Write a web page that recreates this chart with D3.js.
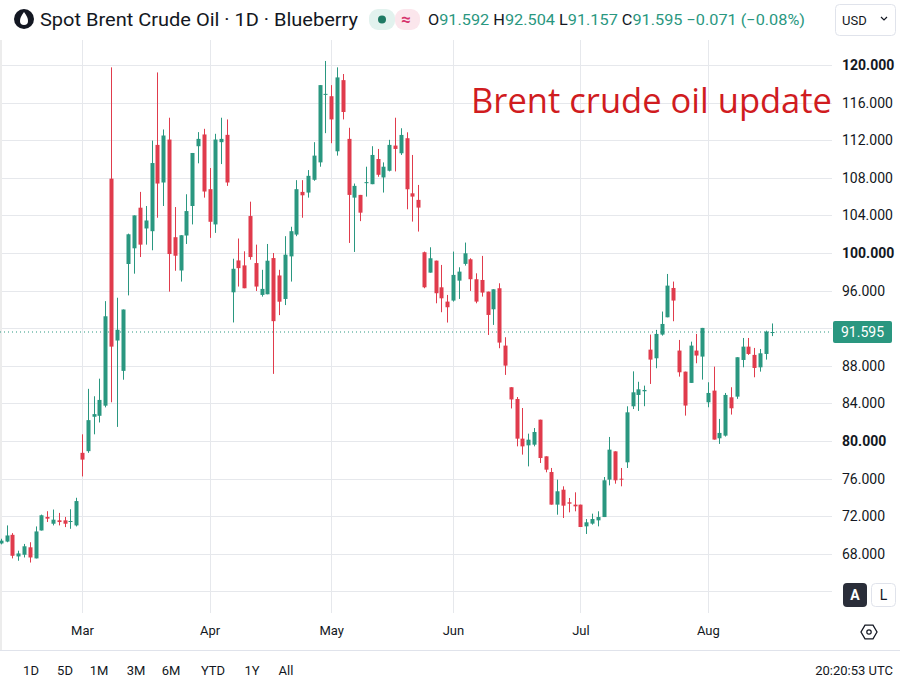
<!DOCTYPE html>
<html>
<head>
<meta charset="utf-8">
<script src="https://cdnjs.cloudflare.com/ajax/libs/d3/7.8.5/d3.min.js"></script>
<style>
	html, body { margin: 0; padding: 0; background: #fff; }
	svg { display: block; font-family: Roboto, 'Noto Sans', sans-serif; }
</style>
</head>
<body>
<div id="chart"></div>
<script>
//daily candles (first one is cut by the left edge)
const opens = [69.1,
	69.30, 70.02, 67.72, 67.90, 68.69, 67.51, 70.48, 71.92, 71.20, 71.56,
	71.56, 71.45, 71.02, 78.74, 78.92, 82.58, 82.68, 83.76, 107.91, 90.69,
	87.46, 98.83, 100.5, 104.82, 102.61, 102.32, 111.5, 107.5, 112.07, 101.68,
	98.14, 101.86, 105.0, 111.36, 112.61, 106.79, 103.04, 111.79, 112.57, 95.82,
	99.21, 98.68, 103.93, 98.93, 95.54, 95.61, 99.46, 97.61, 95.11, 99.64,
	101.96, 106.5, 106.43, 107.79, 109.64, 116.82, 116.68, 110.82, 118.39, 112.14,
	105.89, 106.18, 107.43, 107.32, 110.0, 108.04, 108.75, 111.43, 110.61, 112.21,
	106.35, 105.65, 100.08, 97.91, 99.19, 96.35, 94.83, 94.94, 97.06, 98.84,
	99.33, 97.21, 97.13, 95.89, 94.01, 96.25, 90.15, 85.72, 84.47, 80.25,
	79.54, 79.61, 82.27, 78.37, 76.70, 73.23, 74.82, 73.48, 73.23, 73.23,
	70.92, 71.21, 71.56, 71.91, 75.89, 78.90, 75.99, 77.73, 83.69, 84.90,
	85.29, 89.72, 88.80, 91.32, 93.16, 96.28, 89.62, 87.38, 86.18, 89.62,
	88.98, 84.12, 85.36, 80.29, 80.57, 84.65, 84.72, 88.62, 90.04, 89.16,
	87.84, 89.26, 91.592];
const highs = [69.6,
	71.02, 70.20, 68.33, 69.05, 69.23, 70.91, 72.17, 72.53, 72.71, 72.35,
	71.92, 72.74, 73.96, 80.71, 85.55, 84.76, 86.63, 94.88, 119.75, 95.24,
	93.99, 102.06, 104.0, 106.5, 105.0, 111.96, 119.21, 113.14, 114.39, 104.89,
	101.89, 106.25, 110.64, 112.86, 113.21, 109.04, 112.68, 114.39, 114.21, 99.39,
	101.54, 100.18, 105.46, 100.89, 98.21, 100.96, 100.0, 98.21, 101.79, 102.79,
	107.75, 107.75, 108.82, 111.79, 117.86, 120.43, 117.86, 119.75, 119.04, 113.32,
	107.39, 106.18, 109.18, 111.36, 111.07, 109.64, 112.04, 114.39, 113.27, 112.84,
	110.43, 107.24, 100.15, 100.61, 99.19, 98.73, 95.54, 100.15, 98.48, 101.11,
	99.44, 97.84, 99.69, 95.89, 96.14, 96.78, 91.04, 85.72, 84.68, 83.51,
	80.78, 81.38, 82.27, 78.37, 77.13, 75.89, 75.18, 73.94, 74.54, 73.23,
	71.70, 72.27, 72.52, 76.17, 80.43, 78.90, 77.13, 83.69, 87.41, 86.30,
	85.89, 91.32, 91.82, 93.77, 97.77, 96.96, 90.75, 87.38, 90.57, 91.39,
	92.03, 86.25, 87.91, 82.35, 85.11, 85.72, 88.91, 90.96, 90.96, 89.90,
	89.79, 91.74, 92.504];
const lows = [69.0,
	69.23, 67.51, 67.26, 67.61, 67.07, 67.51, 70.48, 71.38, 71.02, 71.02,
	70.84, 70.66, 70.91, 76.23, 78.74, 80.71, 81.97, 83.58, 84.12, 81.50,
	86.52, 95.49, 97.8, 99.57, 100.89, 100.29, 103.75, 105.0, 95.89, 98.11,
	96.96, 100.96, 103.04, 109.54, 105.89, 101.61, 102.14, 109.46, 107.14, 92.61,
	96.43, 96.25, 99.29, 95.96, 95.36, 95.61, 87.14, 93.39, 94.46, 96.96,
	101.79, 103.75, 105.89, 107.68, 109.18, 112.75, 111.68, 110.36, 114.21, 101.07,
	100.11, 103.39, 106.0, 107.32, 108.11, 106.43, 108.68, 108.68, 110.43, 104.65,
	103.34, 102.28, 96.25, 97.91, 94.65, 93.70, 92.60, 94.83, 95.11, 98.66,
	95.96, 94.65, 95.36, 91.28, 92.35, 89.87, 87.03, 83.46, 79.43, 78.55,
	77.30, 79.43, 77.66, 76.67, 73.23, 72.16, 71.81, 72.41, 72.52, 70.85,
	70.11, 71.10, 70.92, 71.91, 75.28, 75.46, 75.18, 77.13, 83.40, 83.20,
	83.70, 86.07, 87.74, 91.21, 93.16, 92.74, 86.85, 82.70, 86.18, 88.27,
	86.53, 83.59, 80.15, 79.69, 80.47, 82.81, 84.48, 87.84, 89.16, 86.78,
	87.38, 88.66, 91.157];
const closes = [69.4,
	69.95, 67.79, 68.04, 68.80, 67.61, 70.38, 72.10, 71.74, 71.63, 71.38,
	71.20, 71.49, 73.61, 78.02, 82.22, 82.86, 84.37, 93.27, 90.04, 91.83,
	93.99, 101.99, 104.0, 100.89, 103.46, 109.57, 107.39, 112.5, 99.89, 99.71,
	101.89, 104.46, 110.64, 112.14, 106.54, 103.32, 112.07, 112.14, 107.5, 98.32,
	98.39, 96.25, 99.57, 96.43, 96.18, 99.18, 92.75, 94.82, 99.82, 102.32,
	106.79, 106.14, 108.21, 110.36, 117.86, 116.93, 114.21, 118.68, 115.0, 106.18,
	107.14, 104.29, 107.54, 110.43, 108.32, 109.18, 111.5, 111.07, 112.56, 106.78,
	106.0, 104.83, 96.35, 99.44, 95.72, 95.18, 94.23, 97.67, 98.02, 99.97,
	97.21, 94.83, 95.79, 93.41, 96.14, 90.47, 88.02, 84.42, 80.25, 79.43,
	80.14, 80.96, 78.19, 76.95, 73.23, 74.65, 73.12, 73.33, 73.05, 70.85,
	71.35, 71.70, 71.91, 75.82, 79.08, 75.82, 75.89, 83.05, 85.18, 85.50,
	85.43, 88.66, 91.39, 92.45, 96.53, 94.94, 87.31, 83.77, 90.15, 89.09,
	92.03, 85.11, 80.15, 80.86, 84.90, 83.48, 88.91, 90.04, 89.26, 87.77,
	89.33, 91.64, 91.595];

//first candle of each month (index into the arrays above)
const monthLabels = ['Mar', 'Apr', 'May', 'Jun', 'Jul', 'Aug'];
const monthStarts = [14, 36, 57, 78, 100, 122];

//grid lines every 4; 64 and 92 have no label (hidden by buttons / price tag)
const priceTicks = [64, 68, 72, 76, 80, 84, 88, 92, 96, 100, 104, 108, 112, 116, 120];
const priceLabels = [68, 72, 76, 80, 84, 88, 96, 100, 104, 108, 112, 116, 120];
const rangeButtons = ['1D', '5D', '1M', '3M', '6M', 'YTD', '1Y', 'All'];
const lastPrice = 91.595;

const width = 900;
const height = 677;
const plotRight = 832;
const upColor = '#2a9780';
const downColor = '#e03b4c';
const textColor = '#131722';
const gridColor = '#e6e8ec';

const svg = d3
	.select('#chart')
	.append('svg')
	.attr('width', width)
	.attr('height', height);

svg.append('rect').attr('width', width).attr('height', height).attr('fill', '#fff');

//one slot per trading day
const x = d3
	.scaleLinear()
	.domain([ 0, opens.length - 1 ])
	.range([ 0.9, 0.9 + 5.795 * (opens.length - 1) ]);

const y = d3
	.scaleLinear()
	.domain([ 64, 120 ])
	.range([ 591.4, 65 ]);

//grid
svg
	.append('g')
	.selectAll('line')
	.data(priceTicks)
	.enter()
	.append('line')
	.attr('x1', 0)
	.attr('x2', plotRight)
	.attr('y1', (d) => Math.round(y(d)) + 0.5)
	.attr('y2', (d) => Math.round(y(d)) + 0.5)
	.attr('stroke', gridColor);

svg
	.append('g')
	.selectAll('line')
	.data(monthStarts)
	.enter()
	.append('line')
	.attr('x1', (d) => Math.round(x(d)) + 0.5)
	.attr('x2', (d) => Math.round(x(d)) + 0.5)
	.attr('y1', 40)
	.attr('y2', 613)
	.attr('stroke', gridColor);

//thin strip on the left edge
svg.append('rect').attr('x', 0).attr('y', 40).attr('width', 2).attr('height', 610).attr('fill', '#ececec');

//dotted last price line
svg
	.append('line')
	.attr('x1', 0)
	.attr('x2', plotRight)
	.attr('y1', y(lastPrice))
	.attr('y2', y(lastPrice))
	.attr('stroke', upColor)
	.attr('stroke-width', 1)
	.attr('stroke-dasharray', '1,3');

//candles
const candles = svg
	.append('g')
	.selectAll('g')
	.data(opens.map((o, i) => ({ i, o, h: highs[i], l: lows[i], c: closes[i] })))
	.enter()
	.append('g')
	.attr('fill', (d) => (d.c >= d.o ? upColor : downColor))
	.attr('stroke', (d) => (d.c >= d.o ? upColor : downColor));

candles
	.append('line')
	.attr('x1', (d) => Math.round(x(d.i)) + 0.5)
	.attr('x2', (d) => Math.round(x(d.i)) + 0.5)
	.attr('y1', (d) => y(d.h))
	.attr('y2', (d) => y(d.l))
	.attr('stroke-width', 1);

candles
	.append('rect')
	.attr('stroke', 'none')
	.attr('x', (d) => Math.round(x(d.i)) - 1.5)
	.attr('width', 4)
	.attr('y', (d) => y(Math.max(d.o, d.c)))
	.attr('height', (d) => Math.max(1, Math.abs(y(d.o) - y(d.c))));

//price scale on the right
const yAxis = svg
	.append('g')
	.attr('transform', `translate(${plotRight}, 0)`)
	.call(d3.axisRight(y).tickValues(priceLabels).tickFormat(d3.format('.3f')).tickSize(0).tickPadding(10));
yAxis.select('.domain').remove();
yAxis
	.selectAll('text')
	.attr('font-family', 'Roboto')
	.attr('font-size', 14)
	.attr('fill', textColor)
	.attr('font-weight', (d) => (d % 20 === 0 ? 'bold' : 'normal'));

//last price tag
svg
	.append('rect')
	.attr('x', 833)
	.attr('y', y(lastPrice) - 11)
	.attr('width', 59)
	.attr('height', 22)
	.attr('rx', 2)
	.attr('fill', upColor);
svg
	.append('text')
	.attr('x', 841)
	.attr('y', y(lastPrice) + 5)
	.attr('font-size', 14)
	.attr('fill', '#fff')
	.text(d3.format('.3f')(lastPrice));

//time scale
const xAxis = svg
	.append('g')
	.attr('transform', 'translate(0, 623)')
	.call(d3.axisBottom(x).tickValues(monthStarts).tickFormat((d, i) => monthLabels[i]).tickSize(0).tickPadding(3));
xAxis.select('.domain').remove();
xAxis.selectAll('text').attr('font-family', 'Roboto').attr('font-size', 13).attr('fill', textColor);

//A / L buttons and settings icon
svg.append('rect').attr('x', 843).attr('y', 583).attr('width', 24).attr('height', 24).attr('rx', 4).attr('fill', '#2a2e39');
svg.append('text').attr('x', 855).attr('y', 600).attr('text-anchor', 'middle').attr('font-size', 14).attr('font-weight', 'bold').attr('fill', '#fff').text('A');
svg.append('rect').attr('x', 871.5).attr('y', 583.5).attr('width', 24).attr('height', 23).attr('rx', 4).attr('fill', '#fff').attr('stroke', '#e0e3eb');
svg.append('text').attr('x', 883.5).attr('y', 600).attr('text-anchor', 'middle').attr('font-size', 14).attr('fill', textColor).text('L');

const hex = d3.range(6).map((k) => {
	const a = Math.PI / 3 * k;
	return [ 869 + 8 * Math.cos(a), 632 + 8 * Math.sin(a) ];
});
svg.append('path').attr('d', d3.line()(hex) + 'Z').attr('fill', 'none').attr('stroke', textColor).attr('stroke-width', 1.3);
svg.append('circle').attr('cx', 869).attr('cy', 632).attr('r', 2.2).attr('fill', 'none').attr('stroke', textColor).attr('stroke-width', 1.2);

//bottom bar
svg.append('line').attr('x1', 0).attr('x2', width).attr('y1', 650.5).attr('y2', 650.5).attr('stroke', '#e0e3eb');
const btnX = [ 31, 65, 99, 136, 171, 213, 252, 286 ];
svg
	.append('g')
	.selectAll('text')
	.data(rangeButtons)
	.enter()
	.append('text')
	.attr('x', (d, i) => btnX[i])
	.attr('y', 675)
	.attr('text-anchor', 'middle')
	.attr('font-size', 13)
	.attr('fill', textColor)
	.text((d) => d);
svg.append('text').attr('x', 893).attr('y', 675).attr('text-anchor', 'end').attr('font-size', 13).attr('fill', textColor).text('20:20:53 UTC');

//header
svg.append('circle').attr('cx', 24).attr('cy', 19).attr('r', 10).attr('fill', '#131722');
svg.append('path').attr('d', 'M24 12 C21 16 20 18 20 21 A4 4 0 0 0 28 21 C28 18 27 16 24 12 Z').attr('fill', '#fff');
svg
	.append('text')
	.attr('x', 40)
	.attr('y', 26)
	.attr('font-size', 18)
	.attr('fill', textColor)
	.attr('textLength', 318)
	.attr('lengthAdjust', 'spacingAndGlyphs')
	.text('Spot Brent Crude Oil · 1D · Blueberry');

svg.append('rect').attr('x', 369).attr('y', 9).attr('width', 26).attr('height', 21).attr('rx', 9).attr('fill', '#e2f2ee');
svg.append('rect').attr('x', 395).attr('y', 9).attr('width', 25).attr('height', 21).attr('rx', 9).attr('fill', '#fbe6ec');
svg.append('circle').attr('cx', 382).attr('cy', 19.5).attr('r', 4).attr('fill', '#1f7a64');
svg.append('text').attr('x', 406).attr('y', 25).attr('text-anchor', 'middle').attr('font-size', 17).attr('font-weight', 'bold').attr('fill', '#d6336c').text('≈');

const ohlc = [ [ 'O', '91.592' ], [ 'H', '92.504' ], [ 'L', '91.157' ], [ 'C', '91.595' ] ];
const ohlcText = svg
	.append('text')
	.attr('x', 428)
	.attr('y', 25)
	.attr('font-size', 15)
	.attr('textLength', 377)
	.attr('lengthAdjust', 'spacingAndGlyphs');
ohlc.forEach((p, i) => {
	ohlcText.append('tspan').attr('fill', textColor).text((i > 0 ? ' ' : '') + p[0]);
	ohlcText.append('tspan').attr('fill', upColor).text(p[1]);
});
ohlcText.append('tspan').attr('fill', upColor).text(' \u22120.071 (\u22120.08%)');

svg.append('rect').attr('x', 835.5).attr('y', 4.5).attr('width', 60).attr('height', 31).attr('rx', 4).attr('fill', '#fff').attr('stroke', '#e0e3eb');
svg.append('text').attr('x', 842).attr('y', 25).attr('font-size', 13).attr('fill', textColor).text('USD');
svg.append('path').attr('d', 'M881 17 L884 20 L887 17').attr('fill', 'none').attr('stroke', textColor).attr('stroke-width', 1.2);

//annotation
svg
	.append('text')
	.attr('x', 471)
	.attr('y', 113)
	.attr('font-family', "'Open Sans', sans-serif")
	.attr('font-size', 35)
	.attr('fill', '#d01c1f')
	.attr('textLength', 361)
	.attr('lengthAdjust', 'spacingAndGlyphs')
	.text('Brent crude oil update');
</script>
</body>
</html>
